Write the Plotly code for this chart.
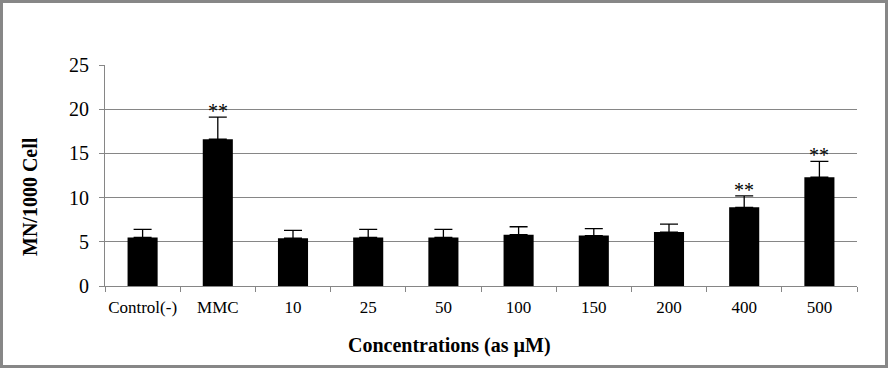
import plotly.graph_objects as go

categories = ["Control(-)", "MMC", "10", "25", "50", "100", "150", "200", "400", "500"]
means = [5.5, 16.6, 5.4, 5.5, 5.5, 5.8, 5.7, 6.1, 8.9, 12.3]
errors = [0.9, 2.5, 0.9, 0.9, 0.9, 0.9, 0.8, 0.9, 1.3, 1.8]
signif = ["", "**", "", "", "", "", "", "", "**", "**"]
y_ticks = [0, 5, 10, 15, 20, 25]

W, H = 888, 368
L, R, T, B = 105, 31, 65, 82
pw, ph = W - L - R, H - T - B
serif = "Liberation Serif, Times New Roman, serif"

fig = go.Figure()
fig.add_trace(go.Bar(
    x=categories, y=means,
    marker=dict(color="black", line=dict(width=0)),
    error_y=dict(type="data", array=errors, arrayminus=[0] * len(errors),
                 symmetric=False, color="black", thickness=1.3, width=9),
))

for i, (m, e, s) in enumerate(zip(means, errors, signif)):
    if s:
        fig.add_annotation(x=i, y=m + e, text=s, showarrow=False,
                           yanchor="bottom", yshift=-7,
                           font=dict(family=serif, size=20, color="black"))

# axis titles
fig.add_annotation(xref="paper", yref="paper",
                   x=(449.5 - L) / pw, y=(T + ph - 345) / ph,
                   xanchor="center", yanchor="middle",
                   text="<b>Concentrations (as µM)</b>", showarrow=False,
                   font=dict(family=serif, size=20, color="black"))
fig.add_annotation(xref="paper", yref="paper",
                   x=(30 - L) / pw, y=(T + ph - 197) / ph,
                   xanchor="center", yanchor="middle",
                   text="<b>MN/1000 Cell</b>", textangle=-90, showarrow=False,
                   font=dict(family=serif, size=20, color="black"))

# outer frame
fig.add_shape(type="rect", xref="paper", yref="paper",
              x0=(1.5 - L) / pw, x1=(W - 1.5 - L) / pw,
              y0=(T + ph - (H - 1.5)) / ph, y1=(T + ph - 1.5) / ph,
              line=dict(color="#878787", width=3), fillcolor="rgba(0,0,0,0)")

fig.update_layout(
    width=W, height=H,
    margin=dict(l=L, r=R, t=T, b=B),
    paper_bgcolor="white", plot_bgcolor="white",
    showlegend=False,
    bargap=0.6,
    xaxis=dict(type="category", range=[-0.5, len(categories) - 0.5],
               showline=True, linecolor="#868686", linewidth=1,
               ticks="outside", tickson="boundaries", ticklen=5, tickcolor="#868686",
               tickangle=0, showgrid=False, ticklabelstandoff=6,
               tickfont=dict(family=serif, size=17, color="black")),
    yaxis=dict(range=[0, 25], tickvals=y_ticks, showline=True, linecolor="#868686",
               linewidth=1, ticks="outside", ticklen=5, tickcolor="#868686",
               showgrid=True, gridcolor="#868686", gridwidth=1, zeroline=False,
               ticklabelstandoff=6,
               tickfont=dict(family=serif, size=20, color="black")),
)

fig.write_html("out.html", config={"displayModeBar": False},
               post_script="document.body.style.margin='0';document.body.style.overflow='hidden';")
